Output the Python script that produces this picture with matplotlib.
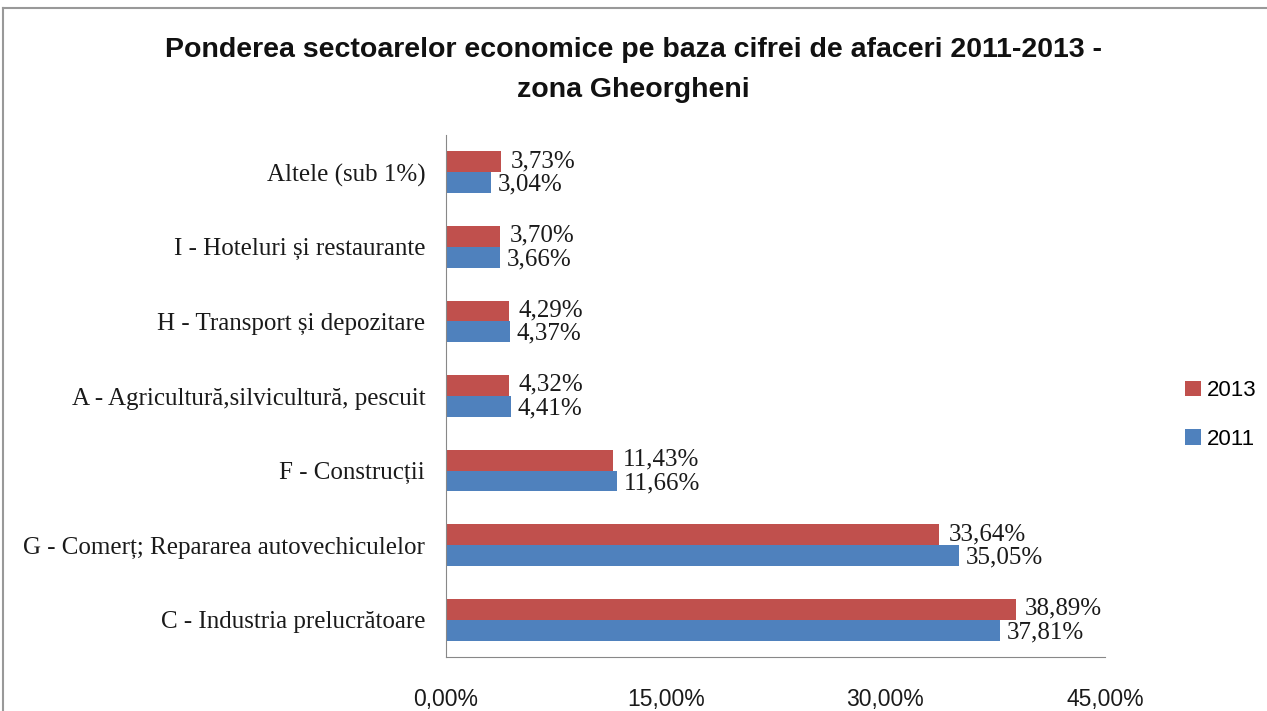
import matplotlib
matplotlib.use("Agg")
import matplotlib.pyplot as plt
import numpy as np

categories = ["C - Industria prelucrătoare",
              "G - Comerț; Repararea autovechiculelor",
              "F - Construcții",
              "A - Agricultură,silvicultură, pescuit",
              "H - Transport și depozitare",
              "I - Hoteluri și restaurante",
              "Altele (sub 1%)"]
v2013 = [38.89, 33.64, 11.43, 4.32, 4.29, 3.70, 3.73]
v2011 = [37.81, 35.05, 11.66, 4.41, 4.37, 3.66, 3.04]
xticks = [0, 15, 30, 45]
title = "Ponderea sectoarelor economice pe baza cifrei de afaceri 2011-2013 -\nzona Gheorgheni"

sans = "Liberation Sans"
serif = "Liberation Serif"

red = "#C0504D"
blue = "#4F81BD"

fig = plt.figure(figsize=(12.67, 7.11), dpi=100)
ax = fig.add_axes([446/1267, 1-657/711, (1105-446)/1267, (657-135)/711])

y = np.arange(len(categories))
h = 0.28
ax.barh(y + h/2, v2013, height=h, color=red, label="2013")
ax.barh(y - h/2, v2011, height=h, color=blue, label="2011")

for yi, a, b in zip(y, v2013, v2011):
    ax.annotate(f"{a:.2f}%".replace(".", ","), (a, yi + h/2), xytext=(7, 0.5),
                textcoords="offset points", va="center", ha="left",
                family=serif, fontsize=18, color="#1a1a1a")
    ax.annotate(f"{b:.2f}%".replace(".", ","), (b, yi - h/2), xytext=(5, -1.5),
                textcoords="offset points", va="center", ha="left",
                family=serif, fontsize=18, color="#1a1a1a")

ax.set_xlim(0, 45)
ax.set_ylim(-0.5, len(categories) - 0.5)
ax.set_xticks(xticks)
ax.set_xticklabels([f"{t:.2f}%".replace(".", ",") for t in xticks],
                   family=sans, fontsize=16.5, color="#1a1a1a")
ax.set_yticks(y)
ax.set_yticklabels(categories, family=serif, fontsize=18, color="#1a1a1a")
ax.tick_params(axis="y", length=0, pad=15)
ax.tick_params(axis="x", length=0, pad=22)
for s in ["top", "right"]:
    ax.spines[s].set_visible(False)
ax.spines["left"].set_color("#888888")
ax.spines["bottom"].set_color("#888888")

fig.text(0.5, 1-70/711, title, ha="center", va="center", family=sans,
         fontweight="bold", fontsize=20.5, linespacing=1.7, color="#111111")

handles, labels = ax.get_legend_handles_labels()
leg = fig.legend(handles, labels, loc="center left", bbox_to_anchor=(1165/1267, 1-415/711),
                 frameon=False, prop={"family": sans, "size": 16},
                 handlelength=0.7, handleheight=0.7, handletextpad=0.3, labelspacing=1.25)

# outer border
fig.add_artist(plt.Line2D([3/1267, 3/1267], [0, 1-8/711], transform=fig.transFigure, color="#999999", lw=1.5))
fig.add_artist(plt.Line2D([3/1267, 1], [1-8/711, 1-8/711], transform=fig.transFigure, color="#999999", lw=1.5))

fig.savefig("out.png", dpi=100)
